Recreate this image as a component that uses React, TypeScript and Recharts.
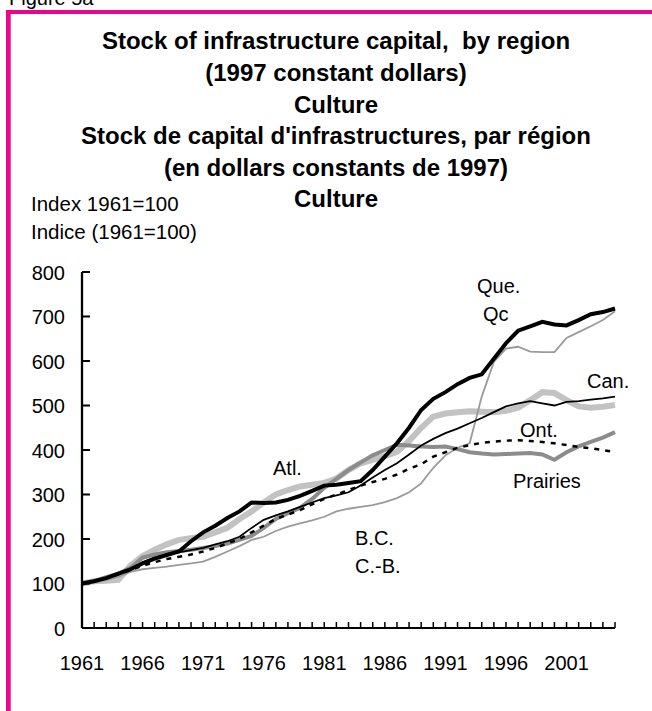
import React from 'react';
import { LineChart, Line, XAxis, YAxis } from 'recharts';

const years = [
  1961, 1962, 1963, 1964, 1965, 1966, 1967, 1968, 1969, 1970,
  1971, 1972, 1973, 1974, 1975, 1976, 1977, 1978, 1979, 1980,
  1981, 1982, 1983, 1984, 1985, 1986, 1987, 1988, 1989, 1990,
  1991, 1992, 1993, 1994, 1995, 1996, 1997, 1998, 1999, 2000,
  2001, 2002, 2003, 2004, 2005,
];

const atl = [
  100, 105, 106, 108, 140, 162, 176, 188, 198, 202,
  205, 215, 225, 245, 262, 282, 300, 310, 318, 322,
  326, 336, 355, 370, 378, 386, 396, 420, 450, 475,
  482, 485, 487, 486, 485, 488, 495, 512, 530, 528,
  512, 498, 495, 497, 501,
];

const prairies = [
  100, 106, 114, 122, 135, 158, 165, 170, 173, 176,
  180, 184, 190, 198, 207, 225, 245, 258, 270, 290,
  315, 335, 355, 372, 388, 400, 412, 410, 408, 407,
  408, 402, 395, 392, 390, 391, 392, 393, 390, 378,
  395, 408, 418, 428, 440,
];

const bc = [
  100, 103, 108, 115, 126, 132, 135, 138, 142, 145,
  149, 160, 172, 184, 198, 205, 218, 228, 235, 242,
  250, 262, 268, 272, 276, 283, 292, 305, 325, 360,
  388, 405, 415, 520, 598, 628, 632, 621, 620, 620,
  652, 665, 678, 692, 712,
];

const ont = [
  100, 105, 112, 120, 130, 140, 148, 155, 160, 165,
  172, 180, 190, 200, 215, 230, 245, 255, 265, 278,
  290, 300, 310, 320, 328, 335, 345, 358, 368, 385,
  395, 405, 411, 416, 419, 421, 422, 420, 418, 415,
  411, 407, 404, 400, 395,
];

const can = [
  100, 106, 113, 122, 130, 148, 158, 165, 170, 175,
  180, 188, 195, 205, 225, 243, 253, 262, 272, 282,
  292, 298, 305, 320, 338, 355, 370, 390, 410, 425,
  438, 448, 460, 472, 485, 498, 505, 510, 505, 500,
  508, 510, 513, 516, 520,
];

const que = [
  100, 105, 112, 122, 132, 145, 156, 164, 172, 195,
  215, 230, 247, 262, 282, 281, 282, 288, 297, 308,
  320, 322, 326, 330, 355, 385, 415, 450, 490, 515,
  530, 548, 562, 570, 605, 640, 668, 678, 688, 682,
  680, 692, 705, 710, 718,
];

const yearLabels = [1961, 1966, 1971, 1976, 1981, 1986, 1991, 1996, 2001];
const yTicks = [0, 100, 200, 300, 400, 500, 600, 700, 800];

const data = years.map((year, i) => ({
  year,
  atl: atl[i],
  prairies: prairies[i],
  bc: bc[i],
  ont: ont[i],
  can: can[i],
  que: que[i],
}));

const font = '"Liberation Sans", Arial, sans-serif';
const pink = '#e9068b';

const titleLines = [
  'Stock of infrastructure capital,  by region',
  '(1997 constant dollars)',
  'Culture',
  "Stock de capital d'infrastructures, par région",
  '(en dollars constants de 1997)',
  'Culture',
];

const XTick = ({ x, y, payload }: any) => (
  <g>
    <line x1={x} x2={x} y1={y} y2={y - 6} stroke="#000" strokeWidth={1.5} />
    {yearLabels.includes(payload.value) && (
      <text x={x} y={y + 42} textAnchor="middle" fontSize={20} fontFamily={font} fill="#000">
        {payload.value}
      </text>
    )}
  </g>
);

const YTick = ({ x, y, payload }: any) => (
  <g>
    <line x1={x} x2={x + 8} y1={y} y2={y} stroke="#000" strokeWidth={2} />
    <text x={x - 17} y={y + 7.5} textAnchor="end" fontSize={20} fontFamily={font} fill="#000">
      {payload.value}
    </text>
  </g>
);

export default function App() {
  return (
    <div style={{ position: 'absolute', left: 0, top: 0, width: 652, height: 711, background: '#fff' }}>
      <LineChart
        width={652}
        height={711}
        data={data}
        margin={{ top: 272, right: 37, bottom: 53, left: 12 }}
        style={{ position: 'absolute', left: 0, top: 0 }}
      >
        <XAxis
          dataKey="year"
          type="number"
          domain={[1961, 2005]}
          ticks={years}
          interval={0}
          height={30}
          tickSize={0}
          tickMargin={0}
          tickLine={false}
          tick={XTick}
          axisLine={{ stroke: '#000', strokeWidth: 2 }}
        />
        <YAxis
          domain={[0, 800]}
          ticks={yTicks}
          interval={0}
          width={70}
          tickSize={0}
          tickMargin={0}
          tickLine={false}
          tick={YTick}
          axisLine={{ stroke: '#000', strokeWidth: 2.3 }}
        />
        <Line dataKey="atl" stroke="#c2c2c2" strokeWidth={6} dot={false} activeDot={false} isAnimationActive={false} />
        <Line dataKey="prairies" stroke="#8c8c8c" strokeWidth={4} dot={false} activeDot={false} isAnimationActive={false} />
        <Line dataKey="bc" stroke="#9a9a9a" strokeWidth={1.8} dot={false} activeDot={false} isAnimationActive={false} />
        <Line dataKey="ont" stroke="#000" strokeWidth={2.5} strokeDasharray="5 6" dot={false} activeDot={false} isAnimationActive={false} />
        <Line dataKey="can" stroke="#000" strokeWidth={1.8} dot={false} activeDot={false} isAnimationActive={false} />
        <Line dataKey="que" stroke="#000" strokeWidth={4} dot={false} activeDot={false} isAnimationActive={false} />
      </LineChart>

      <svg
        width={652}
        height={711}
        style={{ position: 'absolute', left: 0, top: 0, pointerEvents: 'none' }}
        fontFamily={font}
      >
        <text x={9} y={4.5} fontSize={20} fill="#000">Figure 5a</text>
        <rect x={6} y={10} width={646} height={4} fill={pink} />
        <rect x={6} y={10} width={4.7} height={701} fill={pink} />

        {titleLines.map((t, i) => (
          <text
            key={i}
            x={336}
            y={49.3 + i * 31.6}
            textAnchor="middle"
            fontSize={24}
            fontWeight="bold"
            fill="#000"
            style={{ whiteSpace: 'pre' }}
          >
            {t}
          </text>
        ))}

        <text x={31} y={211} fontSize={20.5} fill="#000">Index 1961=100</text>
        <text x={31} y={239} fontSize={20.5} fill="#000">Indice (1961=100)</text>

        <text x={477} y={293} fontSize={20} fill="#000">Que.</text>
        <text x={483} y={321} fontSize={20} fill="#000">Qc</text>
        <text x={587} y={388} fontSize={20} fill="#000">Can.</text>
        <text x={520} y={437} fontSize={20} fill="#000">Ont.</text>
        <text x={513} y={488} fontSize={20} fill="#000">Prairies</text>
        <text x={273} y={475} fontSize={20} fill="#000">Atl.</text>
        <text x={355} y={545} fontSize={20} fill="#000">B.C.</text>
        <text x={355} y={573} fontSize={20} fill="#000">C.-B.</text>
      </svg>
    </div>
  );
}
